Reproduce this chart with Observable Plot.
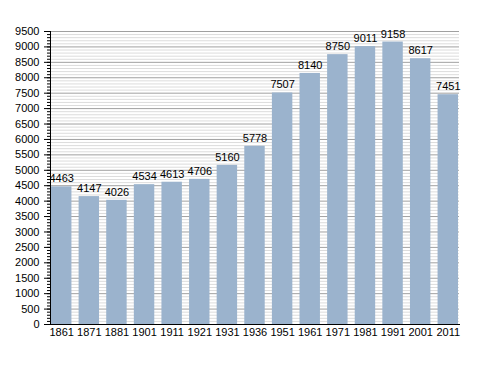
<!DOCTYPE html>
<html>
<head>
<meta charset="utf-8">
<script src="https://cdn.jsdelivr.net/npm/d3@7"></script>
<script src="https://cdn.jsdelivr.net/npm/@observablehq/plot@0.6"></script>
<style>
body{margin:0;background:#fff;}
#chart{position:absolute;left:0;top:0;}
</style>
</head>
<body>
<div id="chart"></div>
<script>
const years = ["1861","1871","1881","1901","1911","1921","1931","1936","1951","1961","1971","1981","1991","2001","2011"];
const population = [4463,4147,4026,4534,4613,4706,5160,5778,7507,8140,8750,9011,9158,8617,7451];
const majorTicks = d3.range(0, 9501, 500);
const minorTicks = d3.range(0, 9501, 100);

const data = years.map((y, i) => ({year: y, pop: population[i]}));

const chart = Plot.plot({
  width: 488,
  height: 373,
  marginLeft: 50,
  marginRight: 29,
  marginTop: 31,
  marginBottom: 49,
  style: {fontFamily: "'Liberation Sans', Arial, sans-serif", fontSize: "11px", color: "#000", background: "#fff"},
  x: {domain: years, paddingInner: 0.26, paddingOuter: 0.036, round: false, label: null},
  y: {domain: [0, 9500], label: null},
  marks: [
    Plot.ruleY(minorTicks.filter(v => v % 500 !== 0), {stroke: "#dcdcdc", strokeWidth: 1}),
    Plot.ruleY(majorTicks, {stroke: "#a0a0a0", strokeWidth: 1}),
    Plot.barY(data, {x: "year", y: "pop", fill: "#9bb3cd"}),
    Plot.text(data, {x: "year", y: "pop", text: d => String(d.pop), dy: -8, fill: "#000", fontSize: 11}),
    Plot.axisY({ticks: minorTicks, tickSize: 3, tickFormat: () => "", stroke: "#000"}),
    Plot.axisY({ticks: majorTicks, tickSize: 6, tickPadding: 5, tickFormat: d => String(d), fill: "#000", fontSize: 11}),
    Plot.axisX({tickSize: 0, tickPadding: 4, fill: "#000", fontSize: 11}),
    Plot.frame({anchor: "left", stroke: "#000"}),
    Plot.frame({anchor: "bottom", stroke: "#000"})
  ]
});
document.getElementById("chart").appendChild(chart);
</script>
</body>
</html>
